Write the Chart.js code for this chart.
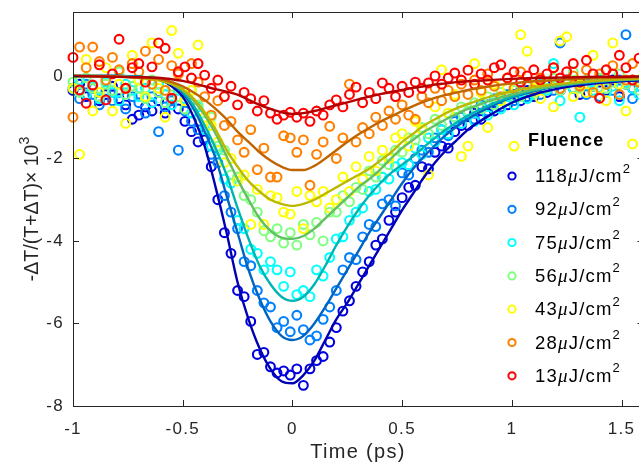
<!DOCTYPE html>
<html>
<head>
<meta charset="utf-8">
<script src="https://cdn.jsdelivr.net/npm/chart.js@4/dist/chart.umd.min.js"></script>
<style>
  html, body { margin: 0; padding: 0; background: #fff; overflow: hidden; }
  canvas { display: block; }
</style>
</head>
<body>
<canvas id="chart" width="650" height="468"></canvas>
<script>
// measured time axis (ps)
const timePs = [
  -1.00, -0.97, -0.94, -0.91, -0.88, -0.85, -0.82, -0.79, -0.76, -0.73,
  -0.70, -0.67, -0.64, -0.61, -0.58, -0.55, -0.52, -0.49, -0.46, -0.43,
  -0.40, -0.37, -0.34, -0.31, -0.28, -0.25, -0.22, -0.19, -0.16, -0.13,
  -0.10, -0.07, -0.04, -0.01, 0.02, 0.05, 0.08, 0.11, 0.14, 0.17,
  0.20, 0.23, 0.26, 0.29, 0.32, 0.35, 0.38, 0.41, 0.44, 0.47,
  0.50, 0.53, 0.56, 0.59, 0.62, 0.65, 0.68, 0.71, 0.74, 0.77,
  0.80, 0.83, 0.86, 0.89, 0.92, 0.95, 0.98, 1.01, 1.04, 1.07,
  1.10, 1.13, 1.16, 1.19, 1.22, 1.25, 1.28, 1.31, 1.34, 1.37,
  1.40, 1.43, 1.46, 1.49, 1.52, 1.55, 1.58
];

// -dT/(T+dT) x 10^3, one array per fluence
const data118 = [
  -0.35, -0.2, -0.5, -0.3, -0.6, -0.45, -0.25, -0.55, -0.7, -1.05,
  -0.95, -0.75, -0.85, -0.6, -0.9, -0.55, -0.8, -1.1, -1.35, -1.6,
  -1.55, -2.2, -3.0, -3.8, -4.3, -5.2, -5.35, -5.95, -6.75, -6.7,
  -7.05, -7.2, -7.15, -7.25, -7.1, -7.5, -7.1, -6.9, -6.8, -6.45,
  -6.1, -5.7, -5.45, -5.1, -4.75, -4.5, -4.1, -3.95, -3.5, -3.3,
  -2.95, -2.7, -2.65, -2.2, -2.25, -1.85, -1.7, -1.75, -1.35, -1.2,
  -1.2, -0.9, -1.05, -0.7, -0.85, -0.55, -0.7, -0.45, -0.6, -0.35,
  -0.5, -0.25, -0.4, -0.15, -0.35, -0.1, -0.3, -0.45, -0.2, -0.25,
  -0.15, -0.35, -0.1, -0.5, -0.2, -0.3, -0.15
];
const data92 = [
  -0.3, -0.55, -0.2, -0.45, -0.7, -0.35, -0.6, -0.4, -0.8, -0.5,
  -0.65, -0.9, -0.5, -1.35, -0.75, -0.6, -1.8, -0.85, -1.1, -1.3,
  -1.5, -1.9, -2.1, -2.9, -3.3, -3.7, -4.5, -4.6, -5.2, -5.5,
  -5.6, -6.1, -5.95, -6.2, -5.8, -6.15, -6.4, -6.3, -5.9, -5.6,
  -5.2, -4.7, -4.4, -4.45, -3.9, -3.6, -3.65, -3.1, -3.0, -3.15,
  -2.35, -2.4, -2.0, -1.8, -1.85, -1.5, -1.3, -1.45, -1.1, -1.0,
  -0.9, -1.05, -0.7, -0.85, -0.55, -0.75, -0.45, -0.6, -0.35, -0.5,
  -0.3, -0.45, -0.15, -0.35, 0.8, -0.1, -0.3, -0.2, -0.45, -0.15,
  -0.5, -0.2, -0.35, -0.1, 1.0, -0.55, -0.25
];
const data75 = [
  -0.3, -0.1, -0.45, -0.25, -0.55, -0.15, -0.4, -0.6, -0.2, -0.35,
  -0.5, -0.3, -0.65, -0.2, -0.45, -0.7, -0.35, -0.55, -0.9, -0.75,
  -1.3, -1.7, -1.8, -2.5, -2.6, -3.5, -3.7, -4.2, -4.3, -4.7,
  -4.5, -4.7, -5.1, -4.75, -5.3, -5.2, -5.35, -4.7, -4.85, -4.4,
  -3.95, -3.9, -3.5, -3.3, -3.2, -2.8, -2.75, -2.45, -2.5, -2.2,
  -2.1, -2.15, -1.75, -1.9, -1.5, -1.6, -1.3, -1.4, -1.0, -1.15,
  -0.9, -1.1, -0.75, -0.95, -0.6, -0.8, -0.5, -0.7, -0.4, -0.55,
  -0.45, -0.2, -0.35, 0.3, -0.6, -0.15, -0.3, -1.0, -0.2, -0.35,
  -0.1, -0.4, -0.25, -0.6, -0.15, -0.3, -0.45
];
const data56 = [
  -0.15, -0.4, -0.05, -0.3, -0.5, -0.2, -0.35, 0.1, -0.45, -0.25,
  -0.3, -0.55, -0.1, -0.4, -0.65, -0.25, -0.5, -0.8, -0.35, -0.7,
  -1.1, -1.0, -1.7, -1.8, -2.4, -2.45, -2.9, -3.0, -3.3, -3.75,
  -3.9, -3.7, -4.05, -3.8, -4.1, -3.6, -3.85, -3.55, -4.0, -3.3,
  -3.3, -2.9, -3.05, -2.7, -2.75, -2.3, -2.45, -2.05, -2.15, -1.8,
  -1.85, -1.5, -1.55, -1.25, -1.4, -1.05, -1.2, -0.9, -1.0, -0.75,
  -0.85, -0.65, -0.8, -0.5, -0.7, -0.4, -0.6, -0.35, -0.5, -0.25,
  -0.4, -0.15, -0.3, -0.05, -0.35, -0.2, 0.1, -0.3, -0.1, -0.25,
  -0.05, -0.3, -0.15, 0.05, -0.2, -0.1, -0.35
];
const data43 = [
  -0.3, -1.9, 0.4, -0.85, -0.4, 0.2, -0.85, -0.2, -1.15, 0.5,
  -0.1, -0.5, 0.8, -0.3, -1.0, 1.1, 0.55, -0.6, -0.35, 0.75,
  -1.0, -1.2, -1.6, -2.1, -2.0, -2.55, -2.4, -3.6, -2.75, -3.6,
  -2.9, -2.95, -3.3, -3.35, -2.8, -3.7, -2.9, -3.05, -2.8, -3.2,
  -3.0, -2.45, -2.8, -2.2, -2.5, -1.95, -2.3, -1.8, -2.0, -1.5,
  -1.4, -1.7, -1.1, -1.3, -2.4, -0.75, 0.15, -0.9, -0.45, -1.95,
  -1.7, 0.3, -0.4, -1.25, -0.2, -0.6, -0.3, -1.7, 1.0, 0.6,
  -0.3, -0.55, -0.15, -0.75, 0.85, 0.95, -0.5, -0.2, -0.4, 0.5,
  -0.3, -0.6, 0.8, -0.2, -0.85, -1.65, -0.1
];
const data28 = [
  -1.0, 0.7, 0.2, 0.7, 0.35, -0.1, 0.45, 0.15, -0.3, 0.3,
  0.1, 0.6, -0.2, 0.4, -0.35, 0.25, 0.05, -0.4, 0.3, -0.15,
  -0.5, -0.95, -0.6, -1.2, -1.1, -1.55, -1.85, -1.3, -2.27, -1.75,
  -2.45, -2.45, -1.45, -1.5, -1.85, -1.55, -2.65, -1.9, -1.6, -1.22,
  -2.0, -1.5, -0.2, -1.6, -1.25, -1.4, -1.0, -1.2, -0.85, -1.05,
  -0.7, -0.95, -1.05, -0.5, -0.65, -0.3, -0.6, -0.35, -0.5, -0.2,
  -0.45, -0.1, -0.35, 0.05, -0.25, -0.5, -0.05, -0.3, 0.1, -0.2,
  -0.35, -0.05, -0.15, 0.2, -0.3, -0.1, 0.0, -0.25, 0.15, -0.4,
  0.05, -0.2, 0.25, -0.45, -0.1, 0.3, -0.15
];
const data13 = [
  0.45, -0.34, -0.66, -0.22, 0.27, -0.58, 0.05, 0.89, -0.3, 0.2,
  0.3, -0.15, 0.22, 0.8, 0.67, -0.54, 0.1, 0.22, -0.05, 0.3,
  0.02, -0.3, -0.1, -0.5, -0.25, -0.7, -0.4, -0.55, -0.85, -0.6,
  -0.9, -1.05, -0.95, -0.88, -1.0, -0.9, -1.1, -0.85, -0.95, -0.7,
  -0.58, -0.75, -0.45, -0.27, -0.65, -0.4, -0.55, -0.17, -0.3, -0.5,
  -0.25, -0.4, -0.15, -0.3, -0.17, 0.0, -0.2, -0.05, 0.07, -0.1,
  0.14, -0.2, 0.05, -0.1, 0.2, 0.27, -0.05, 0.1, -0.15, 0.0,
  0.15, -0.1, 0.05, 0.2, -0.05, 0.1, 0.3, -0.15, 0.38, 0.05,
  -0.54, 0.15, 0.05, 0.5, 0.2, -0.1, 0.43
];

// fitted curves
const fitTimePs = [
  -1.0, -0.9, -0.8, -0.7,
  -0.6, -0.55, -0.5, -0.45, -0.4, -0.35, -0.3, -0.25, -0.2, -0.15,
  -0.1, -0.05, 0.0, 0.05, 0.1, 0.15, 0.2, 0.25, 0.3, 0.35,
  0.4, 0.45, 0.5, 0.55, 0.6, 0.65, 0.7, 0.75, 0.8,
  0.9, 1.0, 1.1, 1.2, 1.3, 1.4, 1.5, 1.6
];
const fit118 = [
  0, 0, 0, -0.02,
  -0.1, -0.25, -0.5, -1.0, -1.7, -2.7, -3.8, -5.0, -5.9, -6.6,
  -7.1, -7.4, -7.45, -7.25, -6.9, -6.4, -5.9, -5.5, -5.05, -4.6,
  -4.15, -3.7, -3.25, -2.85, -2.45, -2.1, -1.8, -1.55, -1.3,
  -0.95, -0.65, -0.45, -0.32, -0.23, -0.17, -0.13, -0.1
];
const fit92 = [
  0, 0, 0, -0.02,
  -0.08, -0.2, -0.42, -0.8, -1.35, -2.0, -2.9, -3.8, -4.7, -5.4,
  -5.95, -6.3, -6.4, -6.3, -6.0, -5.6, -5.15, -4.7, -4.25, -3.8,
  -3.4, -3.0, -2.6, -2.25, -1.95, -1.68, -1.43, -1.22, -1.04,
  -0.75, -0.52, -0.37, -0.26, -0.19, -0.14, -0.1, -0.08
];
const fit75 = [
  0, 0, 0, -0.02,
  -0.08, -0.18, -0.38, -0.72, -1.2, -1.75, -2.4, -3.2, -3.95, -4.6,
  -5.05, -5.35, -5.45, -5.35, -5.05, -4.6, -4.1, -3.65, -3.25, -2.9,
  -2.6, -2.35, -2.15, -1.95, -1.72, -1.5, -1.3, -1.12, -0.96,
  -0.7, -0.5, -0.35, -0.25, -0.18, -0.13, -0.1, -0.07
];
const fit56 = [
  0, 0, -0.01, -0.04,
  -0.1, -0.2, -0.35, -0.6, -0.95, -1.4, -1.95, -2.5, -3.0, -3.45,
  -3.75, -3.92, -3.95, -3.88, -3.7, -3.45, -3.2, -2.95, -2.7, -2.5,
  -2.27, -2.0, -1.75, -1.55, -1.35, -1.2, -1.05, -0.92, -0.8,
  -0.6, -0.45, -0.33, -0.24, -0.17, -0.12, -0.09, -0.07
];
const fit43 = [
  0, 0, -0.01, -0.05,
  -0.12, -0.2, -0.33, -0.55, -0.88, -1.3, -1.8, -2.2, -2.55, -2.8,
  -3.0, -3.1, -3.15, -3.1, -3.0, -2.85, -2.7, -2.55, -2.4, -2.25,
  -2.05, -1.85, -1.6, -1.4, -1.2, -1.05, -0.9, -0.78, -0.68,
  -0.5, -0.37, -0.27, -0.2, -0.15, -0.11, -0.08, -0.06
];
const fit28 = [
  0, -0.01, -0.02, -0.04,
  -0.08, -0.15, -0.25, -0.4, -0.58, -0.8, -1.05, -1.35, -1.6, -1.85,
  -2.05, -2.2, -2.28, -2.28, -2.18, -2.0, -1.8, -1.6, -1.42, -1.26,
  -1.11, -0.98, -0.85, -0.73, -0.62, -0.53, -0.46, -0.4, -0.34,
  -0.25, -0.18, -0.13, -0.1, -0.07, -0.05, -0.04, -0.03
];
const fit13 = [
  0, -0.01, -0.02, -0.03,
  -0.05, -0.08, -0.12, -0.18, -0.25, -0.32, -0.38, -0.45, -0.58, -0.7,
  -0.8, -0.88, -0.92, -0.9, -0.85, -0.78, -0.71, -0.64, -0.57, -0.5,
  -0.44, -0.39, -0.34, -0.29, -0.25, -0.21, -0.18, -0.15, -0.13,
  -0.1, -0.07, -0.05, -0.04, -0.03, -0.02, -0.02, -0.01
];

const fluenceLabels = ['118', '92', '75', '56', '43', '28', '13'];
const xTicks = [-1, -0.5, 0, 0.5, 1, 1.5];
const yTicks = [-8, -6, -4, -2, 0];

const markerColors = ['#0000e0', '#0080ff', '#00ffff', '#80ff80', '#ffff00', '#ff8000', '#ff0000'];
const lineColors = ['#0000b4', '#0064c0', '#00b4b4', '#64be64', '#bcb800', '#c06400', '#b40000'];

const seriesPoints = [data118, data92, data75, data56, data43, data28, data13];
const seriesFits = [fit118, fit92, fit75, fit56, fit43, fit28, fit13];

const FONT = '"Liberation Sans", Arial, Helvetica, sans-serif';
const TEXT = '#262626';

function pairs(xs, ys) {
  return xs.map((x, i) => ({ x: x, y: ys[i] }));
}

const datasets = [];
fluenceLabels.forEach((name, i) => {
  datasets.push({
    label: name,
    data: pairs(timePs, seriesPoints[i]),
    showLine: false,
    pointStyle: 'circle',
    pointRadius: 4.4,
    pointBorderWidth: 2.1,
    pointBorderColor: markerColors[i],
    pointBackgroundColor: 'rgba(0,0,0,0)',
    clip: 8,
    order: 20 - i
  });
  datasets.push({
    label: name + ' fit',
    data: pairs(fitTimePs, seriesFits[i]),
    showLine: true,
    pointRadius: 0,
    borderColor: lineColors[i],
    borderWidth: 2.4,
    cubicInterpolationMode: 'monotone',
    order: 7 - i
  });
});

function drawRich(ctx, x, y, parts) {
  let cx = x;
  parts.forEach(p => {
    ctx.font = p.font;
    ctx.fillText(p.t, cx, y + (p.dy || 0));
    cx += ctx.measureText(p.t).width;
  });
}

function noPad(s) {
  s.paddingTop = 0;
  s.paddingBottom = 0;
  s.paddingLeft = 0;
  s.paddingRight = 0;
}

const frame = {
  id: 'frame',
  beforeDraw(chart) {
    chart.ctx.letterSpacing = '1.3px';
  },
  afterDraw(chart) {
    const ctx = chart.ctx;
    const a = chart.chartArea;
    const xs = chart.scales.x;
    const ys = chart.scales.y;
    ctx.save();
    ctx.strokeStyle = TEXT;
    ctx.lineWidth = 1;
    ctx.strokeRect(Math.round(a.left) + 0.5, Math.round(a.top) + 0.5,
      Math.round(a.right - a.left), Math.round(a.bottom - a.top));
    ctx.beginPath();
    xTicks.forEach(v => {
      const px = Math.round(xs.getPixelForValue(v)) + 0.5;
      ctx.moveTo(px, a.bottom);
      ctx.lineTo(px, a.bottom - 6);
      ctx.moveTo(px, a.top);
      ctx.lineTo(px, a.top + 6);
    });
    yTicks.forEach(v => {
      const py = Math.round(ys.getPixelForValue(v)) + 0.5;
      ctx.moveTo(a.left, py);
      ctx.lineTo(a.left + 6, py);
      ctx.moveTo(a.right, py);
      ctx.lineTo(a.right - 6, py);
    });
    ctx.stroke();

    // axis titles
    ctx.fillStyle = TEXT;
    ctx.textBaseline = 'middle';
    ctx.textAlign = 'center';
    ctx.letterSpacing = '1.3px';
    ctx.font = '20px ' + FONT;
    ctx.fillText('Time (ps)', 358, 452);

    ctx.save();
    ctx.letterSpacing = '0px';
    ctx.translate(33, 209);
    ctx.rotate(-Math.PI / 2);
    ctx.textAlign = 'left';
    const main = '-\u0394T/(T+\u0394T)\u00d7 10';
    ctx.font = '19.5px ' + FONT;
    const wMain = ctx.measureText(main).width;
    ctx.font = '14px ' + FONT;
    const wSup = ctx.measureText('3').width;
    drawRich(ctx, -(wMain + wSup) / 2, 0, [
      { t: main, font: '19.5px ' + FONT },
      { t: '3', font: '14px ' + FONT, dy: -8 }
    ]);
    ctx.restore();

    // legend
    ctx.textAlign = 'left';
    ctx.letterSpacing = '1.2px';
    ctx.fillStyle = '#000';
    ctx.font = 'bold 18px ' + FONT;
    ctx.fillText('Fluence', 528, 141);
    fluenceLabels.forEach((name, i) => {
      const y = 177 + i * 33.3;
      ctx.beginPath();
      ctx.arc(512, y - 1, 3.6, 0, Math.PI * 2);
      ctx.strokeStyle = markerColors[i];
      ctx.lineWidth = 2;
      ctx.stroke();
      ctx.fillStyle = '#000';
      drawRich(ctx, 535, y, [
        { t: name, font: '18.5px ' + FONT },
        { t: '\u03bc', font: 'italic 19px "Liberation Serif", serif' },
        { t: 'J/cm', font: '18.5px ' + FONT },
        { t: '2', font: '13px ' + FONT, dy: -8 }
      ]);
    });
    ctx.restore();
  }
};

new Chart(document.getElementById('chart').getContext('2d'), {
  type: 'scatter',
  data: { datasets: datasets },
  options: {
    responsive: false,
    animation: false,
    devicePixelRatio: 1,
    layout: { padding: { left: 0, top: 12, right: 5, bottom: 0 } },
    plugins: {
      legend: { display: false },
      tooltip: { enabled: false }
    },
    scales: {
      x: {
        type: 'linear',
        min: -1,
        max: 1.6,
        afterBuildTicks: s => { s.ticks = xTicks.map(v => ({ value: v })); },
        afterFit: s => { s.height = 62; noPad(s); },
        grid: { display: false, drawTicks: false },
        border: { display: false },
        ticks: {
          color: TEXT,
          padding: 13,
          maxRotation: 0,
          font: { family: FONT, size: 17 },
          callback: v => String(v)
        }
      },
      y: {
        type: 'linear',
        min: -8,
        max: 1.55,
        afterBuildTicks: s => { s.ticks = yTicks.map(v => ({ value: v })); },
        afterFit: s => { s.width = 73; noPad(s); },
        grid: { display: false, drawTicks: false },
        border: { display: false },
        ticks: {
          color: TEXT,
          padding: 9,
          font: { family: FONT, size: 17 },
          callback: v => String(v)
        }
      }
    }
  },
  plugins: [frame]
});
</script>
</body>
</html>
